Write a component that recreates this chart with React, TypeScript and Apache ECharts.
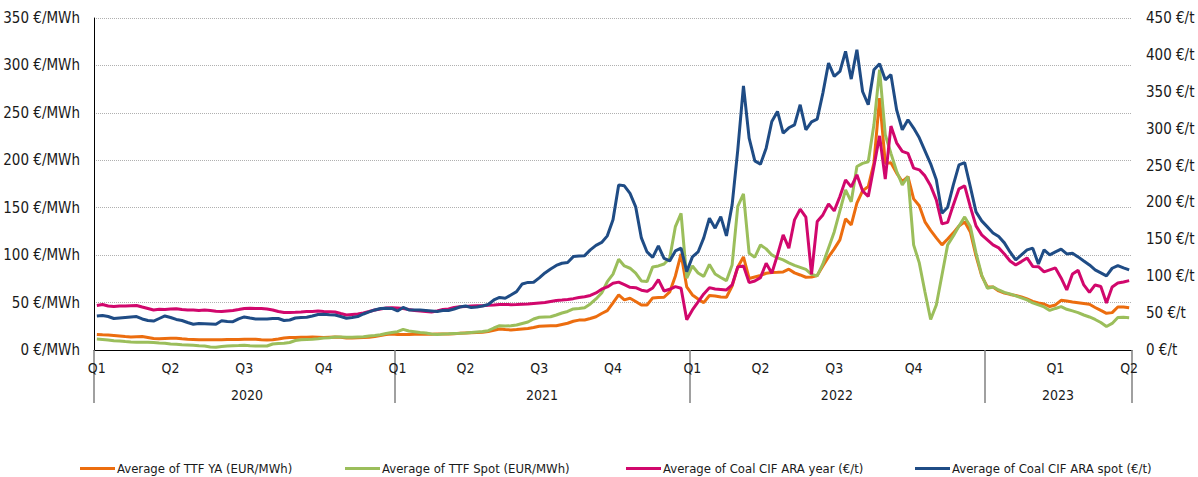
import React, { useEffect, useRef } from 'react';
import * as echarts from 'echarts';

// Weekly averages, Jan 2020 – end Q2 2023 (183 weeks)
const ttfYA = [
  16.4, 16.0, 15.8, 15.3, 14.8, 14.2, 13.7, 14.0, 14.2, 13.2,
  12.1, 11.9, 12.1, 12.3, 12.3, 11.8, 11.4, 11.1, 10.8, 10.8,
  10.9, 10.9, 10.9, 11.0, 11.0, 11.1, 11.3, 11.4, 11.3, 10.9,
  10.6, 10.8, 11.6, 12.7, 13.2, 13.2, 13.4, 13.5, 13.7, 13.5,
  13.2, 13.5, 13.7, 13.4, 12.7, 12.7, 12.9, 13.2, 13.4, 14.2,
  15.3, 16.4, 16.9, 16.4, 16.4, 16.4, 16.6, 16.6, 16.7, 16.7,
  16.8, 16.9, 16.9, 17.2, 17.6, 17.9, 18.2, 18.4, 18.7, 19.5,
  20.8, 22.2, 21.6, 21.2, 21.5, 22.1, 22.6, 23.8, 25.1, 25.4,
  25.5, 25.6, 26.9, 28.2, 30.3, 31.5, 31.7, 33.2, 35.1, 38.5,
  41.5, 49.6, 58.0, 52.8, 54.6, 51.2, 47.5, 47.5, 54.9, 55.4,
  55.6, 61.2, 78.1, 101.3, 66.5, 58.0, 53.8, 49.9, 57.5, 57.0,
  55.9, 55.6, 67.5, 87.6, 98.1, 75.4, 77.0, 78.6, 80.9, 81.8,
  82.0, 82.3, 85.2, 81.3, 79.1, 76.7, 77.0, 78.6, 88.6, 98.1,
  106.6, 116.1, 138.2, 131.9, 154.8, 167.8, 172.3, 197.0, 265.6, 197.0,
  197.3, 186.5, 177.6, 182.9, 159.3, 152.0, 135.1, 126.1, 118.2, 110.8,
  117.1, 123.5, 130.8, 135.1, 124.5, 99.2, 78.1, 66.5, 66.5, 62.3,
  60.1, 58.6, 57.5, 55.9, 53.8, 51.2, 49.6, 48.5, 45.8, 47.5,
  52.4, 51.7, 50.7, 49.9, 49.1, 48.2, 44.8, 41.7, 38.7, 39.4,
  45.4, 45.4, 44.6,
];

const ttfSpot = [
  11.6, 11.1, 10.6, 9.8, 9.5, 8.9, 8.4, 8.2, 8.2, 8.1,
  7.9, 7.4, 7.1, 6.3, 6.0, 5.6, 5.3, 5.0, 4.5, 4.2,
  3.2, 2.8, 3.7, 4.2, 4.5, 4.7, 5.0, 4.5, 4.2, 4.2,
  4.2, 6.3, 6.9, 7.1, 7.9, 10.0, 10.8, 11.1, 11.3, 11.8,
  12.7, 13.0, 13.7, 13.7, 13.4, 13.4, 13.7, 14.0, 14.8, 15.3,
  16.0, 17.4, 18.5, 19.3, 21.8, 20.0, 19.3, 18.5, 17.9, 16.9,
  16.4, 16.9, 17.1, 17.4, 17.6, 17.9, 18.5, 19.0, 19.5, 20.4,
  23.2, 25.6, 25.3, 25.5, 26.4, 28.0, 29.5, 32.7, 34.5, 34.8,
  35.0, 36.9, 39.0, 40.6, 43.3, 43.8, 44.6, 48.5, 53.8, 60.1,
  72.0, 80.0, 95.7, 88.6, 86.2, 81.0, 72.8, 72.1, 87.6, 88.6,
  90.7, 96.8, 130.1, 144.0, 75.7, 88.6, 81.2, 77.6, 90.2, 80.2,
  76.5, 73.1, 89.7, 151.4, 164.6, 102.0, 97.8, 110.8, 106.6, 100.2,
  97.1, 95.0, 91.8, 89.2, 87.1, 84.9, 79.7, 78.1, 90.7, 107.6,
  124.5, 146.7, 168.8, 156.2, 193.4, 196.7, 198.4, 237.4, 295.5, 226.9,
  207.3, 188.4, 174.1, 182.9, 110.8, 91.8, 61.2, 32.2, 47.5, 79.1,
  110.8, 120.3, 130.8, 140.3, 130.1, 102.4, 79.1, 65.1, 66.5, 63.3,
  60.7, 59.1, 57.0, 54.9, 52.8, 49.6, 47.5, 45.4, 41.7, 43.8,
  45.7, 42.9, 41.2, 39.4, 36.9, 34.8, 32.2, 29.0, 24.8, 28.0,
  34.3, 34.5, 34.1,
];

const coalYear = [
  60.4, 61.7, 59.7, 59.0, 59.7, 59.7, 60.1, 60.4, 58.3, 56.3,
  54.3, 55.2, 54.9, 55.6, 56.0, 54.9, 54.3, 54.3, 53.6, 54.3,
  53.6, 52.5, 52.2, 52.9, 53.6, 54.9, 56.3, 56.6, 56.3, 56.3,
  55.6, 54.3, 52.2, 50.9, 50.9, 51.1, 51.6, 52.2, 52.2, 52.9,
  52.2, 52.0, 51.6, 49.5, 47.5, 48.2, 48.8, 50.2, 52.2, 54.3,
  55.6, 57.0, 57.4, 57.0, 56.3, 54.9, 53.6, 52.9, 52.2, 51.6,
  52.9, 54.9, 55.6, 57.7, 58.7, 59.0, 59.7, 60.0, 60.1, 60.6,
  61.0, 61.7, 61.7, 61.5, 61.7, 62.1, 62.4, 63.1, 63.8, 64.4,
  65.8, 67.2, 67.8, 68.5, 69.6, 71.2, 72.2, 73.9, 77.3, 82.5,
  85.5, 90.5, 92.0, 88.5, 85.0, 84.5, 81.0, 79.5, 84.0, 95.5,
  80.0, 82.3, 85.9, 83.7, 41.0, 54.3, 65.1, 76.0, 84.5, 82.8,
  82.1, 81.4, 88.2, 112.6, 114.0, 91.3, 93.6, 98.1, 117.6, 104.1,
  128.9, 156.0, 138.0, 176.4, 190.9, 180.0, 102.7, 174.1, 183.1, 198.1,
  188.6, 208.0, 230.6, 221.1, 237.4, 215.7, 208.0, 248.7, 290.3, 231.6,
  303.5, 280.8, 269.3, 266.6, 246.5, 244.2, 236.0, 222.5, 203.5, 170.9,
  173.0, 196.7, 218.4, 222.5, 194.0, 168.2, 156.0, 149.2, 142.4, 138.4,
  130.2, 120.7, 115.3, 119.8, 124.8, 113.3, 113.0, 105.8, 108.5, 111.2,
  97.7, 81.4, 103.1, 107.9, 88.2, 78.0, 88.2, 86.1, 63.8, 85.5,
  90.9, 92.2, 94.0,
];

const coalSpot = [
  46.1, 46.8, 45.4, 42.7, 43.4, 44.1, 44.8, 45.4, 42.1, 40.0,
  39.3, 42.7, 46.1, 44.1, 41.4, 40.0, 37.3, 34.9, 36.0, 35.7,
  35.3, 34.9, 39.7, 38.6, 38.4, 42.1, 44.8, 43.4, 42.1, 42.1,
  42.1, 42.7, 42.7, 40.0, 40.7, 43.4, 44.1, 44.4, 46.1, 48.2,
  48.6, 47.9, 47.5, 45.4, 43.0, 44.1, 45.4, 48.8, 51.6, 54.3,
  56.3, 56.6, 56.3, 52.9, 57.7, 54.3, 54.3, 54.3, 53.6, 52.9,
  52.2, 53.6, 53.6, 55.6, 58.3, 59.7, 57.7, 58.3, 59.7, 61.7,
  67.8, 71.2, 70.1, 74.6, 79.1, 89.5, 91.6, 91.8, 97.7, 104.5,
  109.9, 114.6, 117.6, 118.7, 126.6, 127.5, 127.9, 135.7, 141.8, 145.8,
  154.7, 176.4, 223.8, 222.5, 212.3, 194.0, 151.9, 132.9, 125.5, 141.1,
  124.1, 120.7, 134.3, 138.0, 106.2, 126.2, 132.9, 151.9, 178.7, 165.1,
  180.8, 154.7, 196.7, 271.3, 358.1, 287.2, 256.4, 251.9, 273.6, 309.7,
  323.3, 294.0, 301.2, 305.2, 332.4, 298.5, 309.3, 313.0, 348.2, 388.9,
  370.8, 377.5, 404.7, 367.2, 407.0, 350.4, 332.4, 379.8, 388.0, 366.3,
  373.1, 325.6, 298.5, 312.1, 300.8, 287.6, 270.0, 252.3, 230.6, 185.4,
  193.6, 223.8, 251.0, 254.1, 221.1, 187.2, 175.0, 166.9, 158.7, 153.7,
  145.2, 132.9, 122.1, 128.9, 135.7, 138.0, 116.7, 135.7, 128.9, 132.9,
  136.6, 130.2, 131.2, 126.2, 120.7, 115.3, 108.5, 104.5, 100.4, 110.8,
  114.4, 111.2, 108.5,
];

const seriesNames = [
  'Average of TTF YA (EUR/MWh)',
  'Average of TTF Spot (EUR/MWh)',
  'Average of Coal CIF ARA year (€/t)',
  'Average of Coal CIF ARA spot (€/t)',
];
const seriesColors = ['#EC6D0F', '#9BBE5B', '#D1076C', '#1F4C85'];
const legendLeft = [75, 340, 621, 910];

const quarterLabelIndex = [0, 13, 26, 40, 53, 65, 78, 91, 105, 117, 130, 144, 169, 182];
const quarterLabels = ['Q1', 'Q2', 'Q3', 'Q4', 'Q1', 'Q2', 'Q3', 'Q4', 'Q1', 'Q2', 'Q3', 'Q4', 'Q1', 'Q2'];
const yearLabelIndex = [27, 79, 131, 170];
const yearLabels = ['2020', '2021', '2022', '2023'];
const yearStartIndex = [0, 53, 105, 157];

const weekCategories = ttfYA.map((_, i) => `W${i + 1}`);

const FONT = "'DejaVu Sans Condensed', 'DejaVu Sans', sans-serif";
const TEXT = '#1a1a1a';

export default function App() {
  const ref = useRef<HTMLDivElement>(null);

  useEffect(() => {
    if (!ref.current) return;
    const chart = echarts.init(ref.current, undefined, { renderer: 'svg' });
    const seriesData = [ttfYA, ttfSpot, coalYear, coalSpot];
    chart.setOption({
      animation: false,
      textStyle: { fontFamily: FONT },
      grid: {
        left: 94,
        right: 66,
        top: 18,
        bottom: 127,
        containLabel: false,
        outerBoundsMode: 'none',
      },
      legend: seriesNames.map((name, k) => ({
        left: legendLeft[k],
        top: 457,
        icon: 'rect',
        itemWidth: 35,
        itemHeight: 3,
        textStyle: { fontSize: 13, color: TEXT, fontFamily: FONT, padding: [0, 0, 0, -3] },
        data: [name],
      })),
      xAxis: [
        {
          type: 'category',
          data: weekCategories,
          boundaryGap: true,
          axisLine: { show: true, lineStyle: { color: '#000', width: 1 } },
          axisTick: {
            show: true,
            interval: (i: number) => yearStartIndex.includes(i),
            length: 53,
            lineStyle: { color: '#808080', width: 1.5 },
          },
          axisLabel: {
            interval: (i: number) => quarterLabelIndex.includes(i),
            formatter: (_v: string, i: number) => {
              const k = quarterLabelIndex.indexOf(i);
              return k >= 0 ? quarterLabels[k] : '';
            },
            margin: 11,
            fontSize: 14,
            color: TEXT,
            fontFamily: FONT,
          },
          splitLine: { show: false },
        },
        {
          type: 'category',
          data: weekCategories,
          boundaryGap: true,
          position: 'bottom',
          axisLine: { show: false },
          axisTick: { show: false },
          axisLabel: {
            interval: (i: number) => yearLabelIndex.includes(i),
            formatter: (_v: string, i: number) => {
              const k = yearLabelIndex.indexOf(i);
              return k >= 0 ? yearLabels[k] : '';
            },
            margin: 38,
            padding: [0, 6, 0, 0],
            fontSize: 14,
            color: TEXT,
            fontFamily: FONT,
          },
          splitLine: { show: false },
        },
      ],
      yAxis: [
        {
          type: 'value',
          min: 0,
          max: 350,
          interval: 50,
          axisLine: { show: true, lineStyle: { color: '#000', width: 1 } },
          axisTick: { show: false },
          axisLabel: {
            formatter: (v: number) => `${v} €/MWh`,
            margin: 14,
            fontSize: 15,
            color: TEXT,
            fontFamily: FONT,
          },
          splitLine: { show: true, lineStyle: { type: 'dotted', color: '#b0b0b0', width: 1 } },
        },
        {
          type: 'value',
          position: 'right',
          min: 0,
          max: 450,
          interval: 50,
          axisLine: { show: false },
          axisTick: { show: false },
          axisLabel: {
            formatter: (v: number) => `${v} €/t`,
            margin: 14,
            fontSize: 15,
            color: TEXT,
            fontFamily: FONT,
          },
          splitLine: { show: false },
        },
      ],
      series: seriesNames.map((name, k) => ({
        name,
        type: 'line',
        data: seriesData[k],
        xAxisIndex: 0,
        yAxisIndex: k < 2 ? 0 : 1,
        showSymbol: false,
        symbol: 'none',
        lineStyle: { width: 3, color: seriesColors[k] },
        itemStyle: { color: seriesColors[k] },
      })),
    });
    return () => chart.dispose();
  }, []);

  return (
    <div
      ref={ref}
      style={{ position: 'absolute', left: 0, top: 0, width: 1198, height: 477, background: '#fff' }}
    />
  );
}
